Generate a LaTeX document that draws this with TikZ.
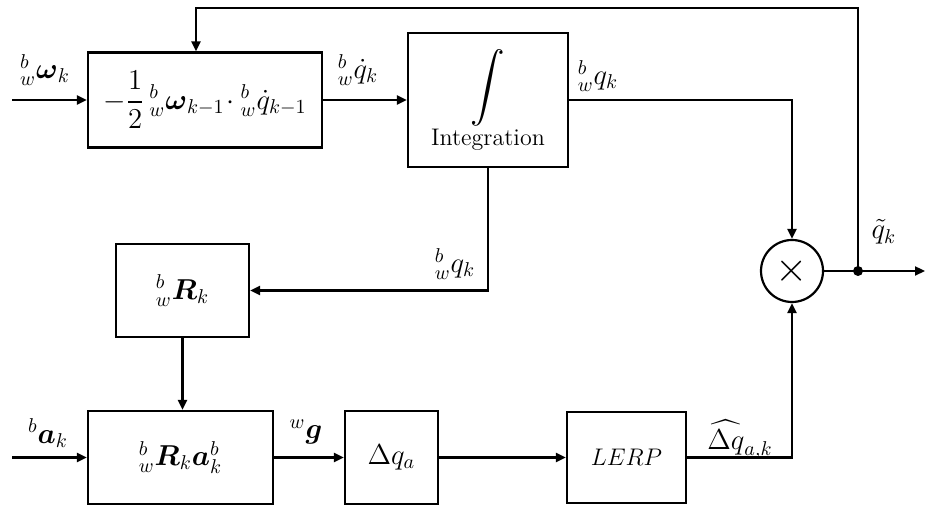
\documentclass[tikz,border=0pt]{standalone}
\usepackage{amsmath}
\usepackage{amssymb}
\usepackage{tikz}
\usetikzlibrary{arrows.meta,positioning,calc}
\tikzset{
  qfnode/.style={draw=black, fill=white, line width=1.1pt, inner sep=2pt,
                 font=\large, align=center},
  qfmult/.style={qfnode, circle, minimum size=31pt, inner sep=0pt},
  qfedge/.style={-{Triangle[length=5pt,width=4.5pt]}, draw=black, line width=1.1pt},
  qfline/.style={draw=black, line width=1.1pt},
  qflabel/.style={font=\Large, inner sep=1pt},
  qfdot/.style={circle, fill=black, inner sep=0pt, minimum size=5pt},
}

\begin{document}
\begin{tikzpicture}[x=0.5pt,y=-0.5pt]
  \useasboundingbox (0,0) rectangle (925,506);
  % upper row
  \node[qfnode, font=\Large, minimum width=117pt, minimum height=47.5pt] (dq) at (205,100)
    {$-\dfrac{1}{2}\,{}^{b}_{w}\boldsymbol{\omega}_{k-1}\!\cdot{}^{b}_{w}\dot{q}_{k-1}$};
  \node[qfnode, minimum width=80pt, minimum height=67pt] (int) at (488,100)
    {{\LARGE$\displaystyle\int$}\\[0pt] Integration};
  \node[qfmult] (mult) at (792,271) {\huge$\times$};
  \node[qfnode, font=\Large, minimum width=66.5pt, minimum height=46.5pt] (rot) at (182.5,290.5)
    {${}^{b}_{w}\boldsymbol{R}_{k}$};
  % lower row
  \node[qfnode, font=\Large, minimum width=92.5pt, minimum height=46.5pt] (acc) at (180.5,457.5)
    {${}^{b}_{w}\boldsymbol{R}_{k}\boldsymbol{a}^{b}_{k}$};
  \node[qfnode, font=\Large, minimum width=46.5pt, minimum height=46.5pt] (dqa) at (391.5,457.5)
    {$\Delta q_{a}$};
  \node[qfnode, minimum width=59.5pt, minimum height=45.5pt] (lerp) at (626.5,457.5)
    {$LERP$};
  \node[qfdot] (jn) at (858,271) {};
  \coordinate (win) at (12,100);
  \coordinate (ain) at (12,457.5);
  \coordinate (out) at (925,271);
  \coordinate (fb) at (196,8);
  % labels
  \node[qflabel] (wlab) at (45,70) {${}^{b}_{w}\boldsymbol{\omega}_{k}$};
  \node[qflabel] (qdlab) at (358,70) {${}^{b}_{w}\dot{q}_{k}$};
  \node[qflabel] (qlab1) at (598,76) {${}^{b}_{w}q_{k}$};
  \node[qflabel] (qlab2) at (455,264) {${}^{b}_{w}q_{k}$};
  \node[qflabel] (qtlab) at (884,232) {$\tilde{q}_{k}$};
  \node[qflabel] (alab) at (48,433) {${}^{b}\boldsymbol{a}_{k}$};
  \node[qflabel] (glab) at (306,432) {${}^{w}\boldsymbol{g}$};
  \node[qflabel] (dhlab) at (740,440) {$\widehat{\Delta q}_{a,k}$};
  % connectors
  \draw[qfedge] (win) -- (dq.west);
  \draw[qfedge] (dq.east) -- (int.west);
  \draw[qfedge] (int.east) -| (mult.north);
  \draw[qfedge] (int.south) |- (rot.east);
  \draw[qfedge] (rot.south) -- (rot.south |- acc.north);
  \draw[qfedge] (ain) -- (acc.west);
  \draw[qfedge] (acc.east) -- (dqa.west);
  \draw[qfedge] (dqa.east) -- (lerp.west);
  \draw[qfedge] (lerp.east) -| (mult.south);
  \draw[qfedge] (mult.east) -- (out);
  \draw[qfedge] (jn.center) |- (fb) -- (fb |- dq.north);
\end{tikzpicture}
\end{document}
